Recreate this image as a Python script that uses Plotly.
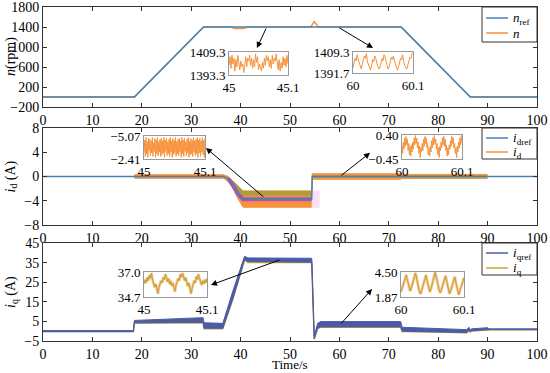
import numpy as np
import plotly.graph_objects as go

# ---------------- data ----------------
# speed (rpm)
t_nref = [0, 18.5, 32.5, 72.5, 86.5, 100]
n_ref = [0, 0, 1400, 1400, 0, 0]
t_n = [0, 18.5, 32.5, 38.0, 38.8, 40.6, 41.4, 54.2, 54.6, 54.9, 55.3, 55.8, 72.5, 86.5, 100]
n_act = [0, 0, 1400, 1400, 1370, 1370, 1400, 1400, 1460, 1510, 1460, 1400, 1400, 0, 0]

# d-axis current (A)
t_idref = [0, 36.5, 37.5, 38.5, 39.5, 40.5, 54.4, 54.5, 100]
id_ref = [0, 0, -0.3, -1.3, -2.7, -3.7, -3.7, 0, 0]
t_idb = [18.5, 36.5, 37.5, 38.5, 39.5, 40.5, 54.4, 54.5, 72.5, 72.6, 90.0]
id_hi = [0.3, 0.3, 0.0, -0.8, -2.0, -2.41, -2.41, 0.45, 0.45, 0.35, 0.35]
id_lo = [-0.3, -0.3, -0.8, -2.1, -3.7, -5.07, -5.07, -0.45, -0.45, -0.35, -0.35]
t_idol = [38.5, 40.5, 54.4]
id_ol_hi = [-0.8, -2.41, -2.41]
id_ol_lo = [-1.4, -3.1, -3.1]
t_idpu = [37.5, 38.5, 39.5, 40.5, 54.4]
id_pu = [-0.4, -1.5, -2.9, -3.75, -3.75]
t_idpk = [54.4, 56.0]
id_pk_hi = [-2.41, -2.41]
id_pk_lo = [-5.07, -5.07]
t_idgr = [54.5, 90.0]
id_gr = [0.0, 0.0]

# q-axis current (A)
t_iq = [0, 18.3, 18.5, 32.4, 32.6, 36.4, 38.5, 40.8, 41.5, 54.4, 54.9, 55.6, 56.2, 72.4, 72.7, 85.8, 86.2, 86.5, 86.8, 90.0, 90.3, 100]
iq_hi = [0.3, 0.3, 5.5, 6.9, 4.3, 4.0, 21.0, 38.2, 37.4, 37.2, -2.5, 4.0, 4.9, 4.9, 2.0, 0.8, 2.0, 0.8, 1.2, 1.8, 1.2, 1.2]
iq_lo = [-0.3, -0.3, 4.3, 4.5, 1.5, 1.5, 17.0, 36.5, 35.5, 35.2, -4.0, 1.5, 2.2, 2.2, 0.0, -0.7, 0.3, -0.2, 0.2, 0.8, 0.8, 0.8]
iq_act = [0.0, 0.0, 4.1, 4.3, 1.3, 1.3, 17.0, 36.3, 35.1, 35.0, -4.0, 1.4, 2.0, 2.0, -0.1, -0.8, 0.2, -0.3, 0.1, 0.7, 0.7, 0.8]

# inset signals
nA = [1400, 1406, 1398, 1407, 1401, 1405, 1396, 1404, 1399, 1407, 1402, 1397, 1403, 1399, 1401, 1395,
      1400, 1406, 1399, 1405, 1403, 1407, 1400, 1405, 1398, 1404, 1399, 1408, 1402, 1406, 1397, 1401,
      1399, 1396, 1402, 1398, 1405, 1400, 1407, 1403, 1406, 1399, 1404, 1398, 1407, 1401, 1405, 1403,
      1408, 1400, 1397, 1404, 1396, 1402, 1398, 1406, 1400, 1405, 1399, 1407, 1401]
nB = [1396, 1400, 1404, 1402, 1407, 1403, 1400, 1397, 1395, 1399, 1402, 1406, 1404, 1408, 1401, 1398,
      1396, 1394, 1398, 1403, 1401, 1406, 1404, 1399, 1397, 1395, 1396, 1400, 1404, 1402, 1407, 1405,
      1400, 1398, 1395, 1397, 1401, 1405, 1403, 1406, 1402, 1399, 1396, 1394, 1397, 1400, 1404, 1403,
      1407, 1401, 1398, 1396, 1395, 1399, 1402, 1405, 1404, 1408, 1409]
idC = [-3.2, -4.6, -2.7, -4.9, -3.0, -4.4, -2.6, -4.8, -3.4, -4.7, -2.8, -4.5, -3.1, -4.9, -2.7, -4.3,
       -3.3, -4.8, -2.6, -4.6, -3.0, -4.9, -2.8, -4.4, -3.2, -4.7, -2.7, -4.8, -2.9, -4.5, -3.1, -4.9,
       -2.6, -4.6, -3.3, -4.8, -2.8, -4.4, -3.0, -4.7, -2.7, -4.9, -3.2, -4.5, -2.6, -4.8, -2.9, -4.6,
       -3.1, -4.9, -2.7, -4.4, -3.0, -4.7, -2.8, -4.8, -3.2, -4.5, -2.6, -4.9, -3.0, -4.6, -2.7, -4.8,
       -3.3, -4.4, -2.8, -4.7, -3.1, -4.9, -2.6, -4.5, -2.9, -4.8, -3.0, -4.6, -2.7, -4.9, -3.2, -4.5,
       -2.8, -4.7, -3.0, -4.9, -2.6, -4.6, -3.1, -4.8, -2.7, -4.5, -3.2, -4.9, -2.9, -4.6, -2.6, -4.8]
idD = [0.05, -0.25, 0.15, -0.1, 0.3, 0.0, 0.35, 0.05, 0.25, -0.15, 0.1, -0.3, 0.0, -0.35, 0.05, -0.2,
       0.15, -0.1, 0.3, 0.05, 0.38, 0.1, 0.28, -0.05, 0.15, -0.25, 0.0, -0.4, -0.05, -0.2, 0.1, -0.15,
       0.25, 0.0, 0.35, 0.1, 0.3, -0.05, 0.1, -0.3, -0.05, -0.35, 0.0, -0.2, 0.2, -0.05, 0.3, 0.05,
       0.38, 0.1, 0.25, -0.1, 0.1, -0.3, -0.05, -0.4, 0.0, -0.15, 0.15, -0.05, 0.3, 0.05, 0.35, 0.0,
       0.25, -0.15, 0.05, -0.35, -0.05, -0.3, 0.05, -0.1, 0.2, 0.0, 0.35, 0.1, 0.3, -0.05, 0.1, -0.25,
       -0.05, -0.4, 0.0, -0.2, 0.15, -0.05, 0.3, 0.05, 0.38, 0.1]
iqE = [35.9, 36.3, 36.0, 36.5, 36.2, 36.7, 36.4, 36.9, 36.3, 36.0, 35.6, 35.9, 35.3, 35.0, 35.6, 35.9,
       36.2, 36.0, 36.5, 36.3, 36.8, 36.5, 36.1, 36.4, 35.9, 36.2, 35.7, 36.0, 35.5, 35.2, 35.8, 36.1,
       36.4, 36.2, 36.8, 36.5, 36.9, 36.6, 36.2, 36.5, 36.0, 35.7, 36.0, 35.4, 35.0, 35.5, 35.9, 36.2,
       36.0, 36.6, 36.3, 36.8, 36.4, 36.1, 35.8, 36.2, 35.9, 36.3, 36.0, 36.4]
iqF = [2.4, 2.8, 3.3, 3.8, 4.2, 3.6, 3.0, 2.5, 2.9, 3.4, 3.9, 4.4, 3.8, 3.1, 2.4, 2.2, 2.7, 3.2, 3.7,
       4.2, 3.5, 2.9, 2.4, 2.8, 3.3, 3.9, 4.45, 3.9, 3.2, 2.6, 2.3, 2.7, 3.2, 3.6, 4.1, 3.4, 2.8, 2.2,
       2.6, 3.1, 3.6, 4.0, 3.3, 2.6, 2.1, 2.6, 3.0, 3.5, 3.9]

x_ticks = [0, 10, 20, 30, 40, 50, 60, 70, 80, 90, 100]
n_ticks = [-200, 200, 600, 1000, 1400, 1800]
id_ticks = [-8, -4, 0, 4, 8]
iq_ticks = [-5, 5, 15, 25, 35, 45]

# legend labels
leg_n = ['<i>n</i><sub>ref</sub>', '<i>n</i>']
leg_id = ['<i>i</i><sub>dref</sub>', '<i>i</i><sub>d</sub>']
leg_iq = ['<i>i</i><sub>qref</sub>', '<i>i</i><sub>q</sub>']

# ---------------- colours ----------------
C_BLUE = '#4682b4'
C_ORANGE = '#f7923a'
C_IQREF = '#4a5ba8'
C_IQ = '#c9a43a'
C_OLIVE = '#b39a3c'
C_PURPLE = '#a857b3'
C_PINK = '#fbe0f5'
C_GREEN = '#5a9e5a'
FONT = 'Liberation Serif'

fig = go.Figure()

def line(x, y, color, w=1.5, xa='x', ya='y', name=None, fill=None, fillcolor=None):
    fig.add_trace(go.Scatter(x=x, y=y, mode='lines', line=dict(color=color, width=w),
                             xaxis=xa, yaxis=ya, name=name, showlegend=False,
                             fill=fill, fillcolor=fillcolor, hoverinfo='skip'))

# --- speed subplot ---
line(t_n, n_act, C_ORANGE, 1.5, 'x', 'y', 'n')
line(t_nref, n_ref, C_BLUE, 1.5, 'x', 'y', 'n_ref')

# --- id subplot ---
line(t_idb, id_hi, C_ORANGE, 1, 'x2', 'y2')
line(t_idb, id_lo, C_ORANGE, 1, 'x2', 'y2', 'i_d', fill='tonexty', fillcolor=C_ORANGE)
line(t_idol, id_ol_hi, C_OLIVE, 1, 'x2', 'y2')
line(t_idol, id_ol_lo, C_OLIVE, 1, 'x2', 'y2', fill='tonexty', fillcolor=C_OLIVE)
line(t_idpk, id_pk_hi, C_PINK, 1, 'x2', 'y2')
line(t_idpk, id_pk_lo, C_PINK, 1, 'x2', 'y2', fill='tonexty', fillcolor=C_PINK)
line(t_idpu, id_pu, C_PURPLE, 4, 'x2', 'y2')
line(t_idgr, id_gr, C_GREEN, 1.5, 'x2', 'y2')
line(t_idref, id_ref, C_BLUE, 1.5, 'x2', 'y2', 'i_dref')

# --- iq subplot ---
line(t_iq, iq_act, C_IQ, 1.5, 'x3', 'y3', 'i_q')
line(t_iq, iq_hi, C_IQREF, 1, 'x3', 'y3')
line(t_iq, iq_lo, C_IQREF, 1, 'x3', 'y3', 'i_qref', fill='tonexty', fillcolor=C_IQREF)

# --- insets ---
line(np.linspace(45, 45.1, len(nA)), nA, C_ORANGE, 1, 'x4', 'y4')
line(np.linspace(60, 60.1, len(nB)), nB, C_ORANGE, 1, 'x5', 'y5')
line(np.linspace(45, 45.1, len(idC)), idC, C_ORANGE, 1, 'x6', 'y6')
line(np.linspace(60, 60.1, len(idD)), idD, C_ORANGE, 1, 'x7', 'y7')
tE = np.linspace(45, 45.1, len(iqE))
line(tE, iqE, 'rgba(247,146,58,0.45)', 3, 'x8', 'y8')
line(tE, iqE, C_IQ, 1.2, 'x8', 'y8')
tF = np.linspace(60, 60.1, len(iqF))
line(tF, iqF, 'rgba(247,146,58,0.45)', 3, 'x9', 'y9')
line(tF, iqF, C_IQ, 1.2, 'x9', 'y9')

# ---------------- layout ----------------
W, H = 550, 373
def px(p): return p / W
def py(p): return 1 - p / H

X0, X1 = px(43), px(537)
axis_style = dict(showline=True, linecolor='#333', linewidth=1, mirror='ticks', ticks='inside',
                  ticklen=4, tickcolor='#333', showgrid=False, zeroline=False, automargin=False,
                  ticklabeloverflow='allow',
                  tickfont=dict(size=14, color='black', family=FONT))

EPS = 1e-6
mains = [
    ('', [py(107), py(7)], n_ticks),
    ('2', [py(225), py(128)], id_ticks),
    ('3', [py(341), py(243)], iq_ticks),
]
lay = {}
for s, dom, tv in mains:
    span = tv[-1] - tv[0]
    lay['xaxis' + s] = dict(axis_style, domain=[X0, X1], range=[0, 100], tickvals=x_ticks,
                            anchor='y' + s)
    lay['yaxis' + s] = dict(axis_style, domain=dom,
                            range=[tv[0] - EPS * span, tv[-1] + EPS * span], tickvals=tv,
                            anchor='x' + s)

inset_style = dict(showline=True, linecolor='#999', linewidth=1, mirror=True, ticks='',
                   showgrid=False, zeroline=False, automargin=False, ticklabeloverflow='allow',
                   tickfont=dict(size=13, color='black', family=FONT))
insets = [
    ('4', [229, 288], [75, 52], [45, 45.1], ['45', '45.1'], [1393.3, 1409.3], ['1393.3', '1409.3']),
    ('5', [353, 413], [73, 52], [60, 60.1], ['60', '60.1'], [1391.7, 1409.3], ['1391.7', '1409.3']),
    ('6', [144, 205], [159, 136], [45, 45.1], ['45', '45.1'], [-2.41, -5.07], ['\u22122.41', '\u22125.07']),
    ('7', [402, 462], [159, 135], [60, 60.1], ['60', '60.1'], [-0.45, 0.40], ['\u22120.45', '0.40']),
    ('8', [144, 207], [297, 272], [45, 45.1], ['45', '45.1'], [34.7, 37.0], ['34.7', '37.0']),
    ('9', [401, 464], [297, 272], [60, 60.1], ['60', '60.1'], [1.87, 4.50], ['1.87', '4.50']),
]
for s, xd, yd, xr, xt, yr, yt in insets:
    lay['xaxis' + s] = dict(inset_style, domain=[px(xd[0]), px(xd[1])], range=xr,
                            tickvals=xr, ticktext=xt, anchor='y' + s)
    lay['yaxis' + s] = dict(inset_style, domain=[py(yd[0]), py(yd[1])], range=yr,
                            tickvals=yr, ticktext=yt, anchor='x' + s)

shapes = []
for s in ['8', '9']:
    shapes.append(dict(type='rect', xref='x%s domain' % s, yref='y%s domain' % s,
                       x0=0, x1=1, y0=0, y1=1, fillcolor='#fde6ea', line=dict(width=0),
                       layer='below'))

annotations = []
# legends (box + line samples + labels) in paper coordinates
legends = [
    ((7, 42), (18, 33), leg_n, (C_BLUE, C_ORANGE)),
    ((128, 159), (138, 152), leg_id, (C_BLUE, C_ORANGE)),
    ((243, 275), (253, 268), leg_iq, (C_IQREF, C_IQ)),
]
for (top, bot), rows, labels, cols in legends:
    shapes.append(dict(type='rect', xref='paper', yref='paper', x0=px(482), x1=X1,
                       y0=py(bot), y1=py(top), fillcolor='white', line=dict(color='#333', width=1),
                       layer='above'))
    for yy, lab, c in zip(rows, labels, cols):
        shapes.append(dict(type='line', xref='paper', yref='paper', x0=px(486), x1=px(508),
                           y0=py(yy), y1=py(yy), line=dict(color=c, width=1.5), layer='above'))
        annotations.append(dict(text=lab, x=px(511), y=py(yy), xref='paper', yref='paper',
                                showarrow=False, xanchor='left', yanchor='middle',
                                font=dict(size=13, family=FONT, color='black')))

# y-axis titles and x title
for txt, yc in [('<i>n</i>(rpm)', (7 + 107) / 2), ('<i>i</i><sub>d</sub> (A)', (128 + 225) / 2),
                ('<i>i</i><sub>q</sub> (A)', (243 + 341) / 2)]:
    annotations.append(dict(text=txt, x=px(11), y=py(yc), xref='paper', yref='paper',
                            showarrow=False, textangle=-90, xanchor='center', yanchor='middle',
                            font=dict(size=14, family=FONT, color='black')))
annotations.append(dict(text='Time/s', x=px(290), y=py(364), xref='paper', yref='paper',
                        showarrow=False, xanchor='center', yanchor='middle',
                        font=dict(size=13, family=FONT, color='black')))
# arrows (head at inset, tail on curve), in data coordinates of main axes
arrows = [
    ('', 43.3, 980, 45.3, 1400),
    ('', 66.8, 980, 59.7, 1400),
    ('2', 33.0, 4.7, 44.9, -3.55),
    ('2', 66.2, 3.9, 60.1, 0.0),
    ('3', 34.0, 23.6, 48.2, 36.6),
    ('3', 66.6, 21.5, 60.1, 3.2),
]
for s, hx, hy, tx, ty in arrows:
    annotations.append(dict(text='', x=hx, y=hy, ax=tx, ay=ty, xref='x' + s, yref='y' + s,
                            axref='x' + s, ayref='y' + s, showarrow=True, arrowhead=2,
                            arrowsize=1.2, arrowwidth=1, arrowcolor='black'))

fig.update_layout(
    width=W, height=H, margin=dict(l=0, r=0, t=0, b=0),
    plot_bgcolor='white', paper_bgcolor='white', showlegend=False, hovermode=False,
    font=dict(family=FONT, size=13, color='black'),
    shapes=shapes, annotations=annotations,
    **lay,
)

fig.write_html('out.html', config={'displayModeBar': False, 'staticPlot': True},
               post_script="document.body.style.margin='0px';")
